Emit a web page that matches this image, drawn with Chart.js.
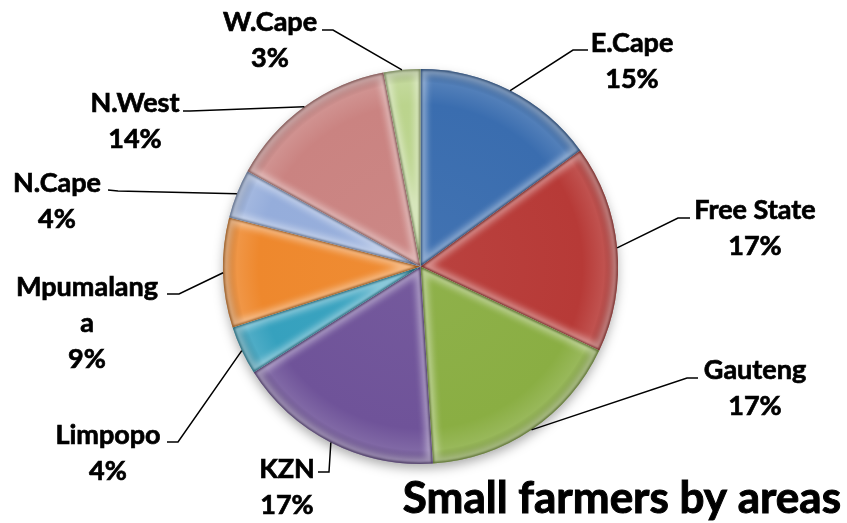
<!DOCTYPE html>
<html>
<head>
<meta charset="utf-8">
<script src="https://cdn.jsdelivr.net/npm/chart.js@4/dist/chart.umd.min.js"></script>
<style>
  html, body { margin: 0; padding: 0; background: #fff; }
  #grafico { display: block; }
</style>
</head>
<body>
<canvas id="grafico" width="847" height="523"></canvas>
<script>
// share of small farmers per province (percent)
const areas = ["E.Cape", "Free State", "Gauteng", "KZN", "Limpopo", "Mpumalanga", "N.Cape", "N.West", "W.Cape"];
const shares = [15, 17, 17, 17, 4, 9, 4, 14, 3];
const sliceColours = ["#3a6daf", "#b73a37", "#8aae43", "#6f5399", "#36a1be", "#ee882d", "#95addb", "#ca8381", "#bbd48d"];
const chartTitle = "Small farmers by areas";

// where each label sits: text lines, text centre, elbow of the leader line, end of leader
const labelLayout = [
  { lines: ["E.Cape"], x: 632, y: 43, elbow: [573, 50], end: [588, 50] },
  { lines: ["Free State"], x: 755, y: 210, elbow: [678, 218], end: [690, 218] },
  { lines: ["Gauteng"], x: 755, y: 370, elbow: [687, 378], end: [698, 378] },
  { lines: ["KZN"], x: 287, y: 469, elbow: [329, 472], end: [318, 472] },
  { lines: ["Limpopo"], x: 108, y: 435, elbow: [178, 442], end: [167, 442] },
  { lines: ["Mpumalang", "a"], x: 87, y: 287, elbow: [179, 294], end: [167, 294] },
  { lines: ["N.Cape"], x: 57, y: 183, elbow: [118, 191], end: [108, 190] },
  { lines: ["N.West"], x: 135, y: 103, elbow: [190, 111], end: [183, 111] },
  { lines: ["W.Cape"], x: 270, y: 22, elbow: [333, 30], end: [322, 30] }
];

const labelFont = "bold 27px Lato, 'Open Sans', sans-serif";
const lineGap = 36;

function shade(hex, amt) {
  const n = parseInt(hex.slice(1), 16);
  let r = (n >> 16) & 255, g = (n >> 8) & 255, b = n & 255;
  const t = amt < 0 ? 0 : 255;
  const p = Math.abs(amt);
  r = Math.round(r + (t - r) * p);
  g = Math.round(g + (t - g) * p);
  b = Math.round(b + (t - b) * p);
  return `rgb(${r},${g},${b})`;
}

function arcPath(ctx, arc) {
  ctx.beginPath();
  ctx.moveTo(arc.x, arc.y);
  ctx.arc(arc.x, arc.y, arc.outerRadius, arc.startAngle, arc.endAngle);
  ctx.closePath();
}

// soft drop shadow under the whole pie
const pieShadow = {
  id: "pieShadow",
  beforeDatasetsDraw(chart) {
    const arcs = chart.getDatasetMeta(0).data;
    if (!arcs.length) return;
    const a = arcs[0];
    const ctx = chart.ctx;
    ctx.save();
    ctx.shadowColor = "rgba(0,0,0,0.35)";
    ctx.shadowBlur = 12;
    ctx.shadowOffsetY = 5;
    ctx.beginPath();
    ctx.arc(a.x, a.y, a.outerRadius - 1, 0, Math.PI * 2);
    ctx.fillStyle = "#fff";
    ctx.fill();
    ctx.restore();
  }
};

// light bevel along the edges of every slice
const bevel = {
  id: "bevel",
  afterDatasetsDraw(chart) {
    const ctx = chart.ctx;
    chart.getDatasetMeta(0).data.forEach((arc, i) => {
      ctx.save();
      arcPath(ctx, arc);
      ctx.clip();
      ctx.filter = "blur(3px)";
      ctx.strokeStyle = "rgba(255,255,255,0.4)";
      ctx.lineWidth = 12;
      arcPath(ctx, arc);
      ctx.stroke();
      ctx.filter = "blur(1px)";
      ctx.strokeStyle = shade(sliceColours[i], -0.4);
      ctx.lineWidth = 2.5;
      arcPath(ctx, arc);
      ctx.stroke();
      ctx.restore();
    });
  }
};

// labels with leader lines, plus the title in the lower right corner
const leaderLabels = {
  id: "leaderLabels",
  afterDraw(chart) {
    const ctx = chart.ctx;
    const arcs = chart.getDatasetMeta(0).data;
    ctx.save();
    arcs.forEach((arc, i) => {
      const lay = labelLayout[i];
      const mid = (arc.startAngle + arc.endAngle) / 2;
      const x0 = arc.x + Math.cos(mid) * arc.outerRadius;
      const y0 = arc.y + Math.sin(mid) * arc.outerRadius;
      ctx.strokeStyle = "#000";
      ctx.lineWidth = 1.5;
      ctx.beginPath();
      ctx.moveTo(x0, y0);
      ctx.lineTo(lay.elbow[0], lay.elbow[1]);
      ctx.lineTo(lay.end[0], lay.end[1]);
      ctx.stroke();

      ctx.fillStyle = "#000";
      ctx.font = labelFont;
      ctx.textAlign = "center";
      ctx.textBaseline = "middle";
      ctx.lineWidth = 0.7;
      const lines = lay.lines.concat([chart.data.datasets[0].data[i] + "%"]);
      lines.forEach((t, k) => {
        ctx.fillText(t, lay.x, lay.y + k * lineGap);
        ctx.strokeText(t, lay.x, lay.y + k * lineGap);
      });
    });

    ctx.font = "bold 44px Lato, 'Open Sans', sans-serif";
    ctx.textAlign = "right";
    ctx.textBaseline = "alphabetic";
    ctx.lineWidth = 1;
    ctx.fillText(chartTitle, 841, 513);
    ctx.strokeText(chartTitle, 841, 513);
    ctx.restore();
  }
};

const ctx = document.getElementById("grafico").getContext("2d");
new Chart(ctx, {
  type: "pie",
  data: {
    labels: areas,
    datasets: [{
      data: shares,
      backgroundColor: (c) => {
        const chart = c.chart;
        const area = chart.chartArea;
        const base = sliceColours[c.dataIndex];
        if (!area) return base;
        const cx = (area.left + area.right) / 2;
        const cy = (area.top + area.bottom) / 2;
        const r = Math.min(area.right - area.left, area.bottom - area.top) / 2;
        const g = chart.ctx.createRadialGradient(cx, cy, 0, cx, cy, r);
        g.addColorStop(0, shade(base, 0.04));
        g.addColorStop(0.82, base);
        g.addColorStop(0.93, shade(base, 0.12));
        g.addColorStop(1, shade(base, -0.22));
        return g;
      },
      borderWidth: 0
    }]
  },
  options: {
    responsive: false,
    animation: false,
    layout: { padding: { top: 69, bottom: 59, left: 223, right: 229 } },
    plugins: {
      legend: { display: false },
      tooltip: { enabled: false },
      title: { display: false }
    }
  },
  plugins: [pieShadow, bevel, leaderLabels]
});
</script>
</body>
</html>
